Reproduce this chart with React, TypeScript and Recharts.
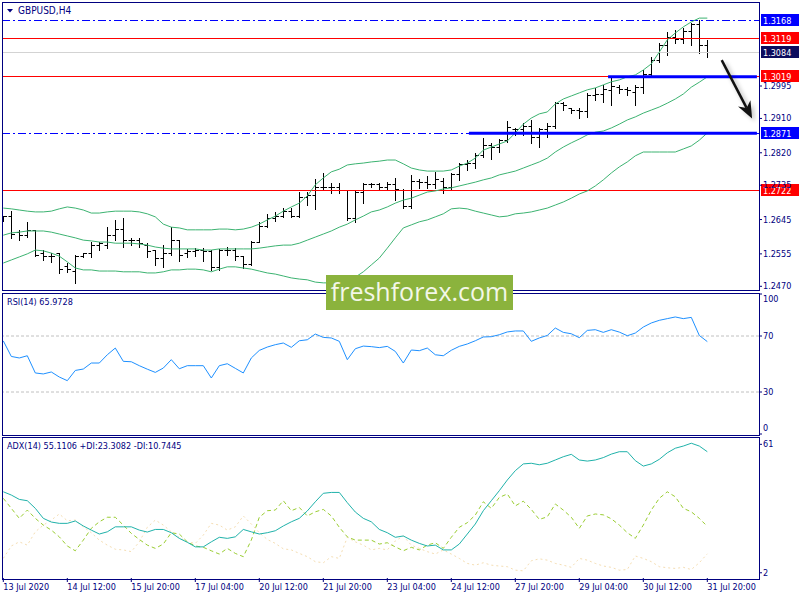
import React from "react";
import { ComposedChart, Bar, Line, XAxis, YAxis, ReferenceLine } from "recharts";

const FONT = "'DejaVu Sans Condensed', 'DejaVu Sans', sans-serif";
const NAVY = "#000080";
const BB = "#3CB371";

// H4 bar times, 13 Jul 04:00 .. 31 Jul 20:00
const days = [
  "13 Jul", "14 Jul", "15 Jul", "16 Jul", "17 Jul",
  "20 Jul", "21 Jul", "22 Jul", "23 Jul", "24 Jul",
  "27 Jul", "28 Jul", "29 Jul", "30 Jul", "31 Jul",
];
const hours = ["00:00", "04:00", "08:00", "12:00", "16:00", "20:00"];
const times = days.flatMap((d) => hours.map((h) => `${d} ${h}`)).slice(1);
const firstLabel = "13 Jul 2020";

const opens = [
  1.2652, 1.2652, 1.2610, 1.2602, 1.2615, 1.2557, 1.2547, 1.2555, 1.2521, 1.2510,
  1.2549, 1.2555, 1.2576, 1.2578, 1.2602, 1.2620, 1.2591, 1.2589, 1.2578, 1.2563,
  1.2544, 1.2557, 1.2591, 1.2555, 1.2560, 1.2565, 1.2560, 1.2518, 1.2563, 1.2565,
  1.2547, 1.2528, 1.2586, 1.2628, 1.2649, 1.2654, 1.2667, 1.2654, 1.2704, 1.2707,
  1.2730, 1.2728, 1.2730, 1.2722, 1.2649, 1.2717, 1.2736, 1.2736, 1.2730, 1.2738,
  1.2722, 1.2678, 1.2746, 1.2743, 1.2738, 1.2746, 1.2728, 1.2762, 1.2788, 1.2793,
  1.2814, 1.2840, 1.2835, 1.2851, 1.2880, 1.2882, 1.2888, 1.2861, 1.2880, 1.2890,
  1.2948, 1.2935, 1.2932, 1.2927, 1.2969, 1.2974, 1.2982, 1.2992, 1.2987, 1.2979,
  1.2990, 1.3024, 1.3063, 1.3100, 1.3121, 1.3116, 1.3137, 1.3155, 1.3102,
];
const highs = [
  1.2654, 1.2667, 1.2618, 1.2639, 1.2618, 1.2565, 1.2557, 1.2557, 1.2531, 1.2552,
  1.2557, 1.2586, 1.2586, 1.2625, 1.2644, 1.2649, 1.2597, 1.2597, 1.2583, 1.2565,
  1.2578, 1.2625, 1.2591, 1.2568, 1.2570, 1.2570, 1.2565, 1.2568, 1.2573, 1.2570,
  1.2549, 1.2589, 1.2639, 1.2660, 1.2665, 1.2675, 1.2675, 1.2717, 1.2717, 1.2751,
  1.2767, 1.2741, 1.2741, 1.2722, 1.2722, 1.2741, 1.2741, 1.2741, 1.2743, 1.2754,
  1.2725, 1.2762, 1.2751, 1.2759, 1.2770, 1.2754, 1.2767, 1.2793, 1.2801, 1.2819,
  1.2859, 1.2846, 1.2856, 1.2903, 1.2885, 1.2898, 1.2906, 1.2885, 1.2898, 1.2953,
  1.2953, 1.2937, 1.2937, 1.2977, 1.2990, 1.2998, 1.3016, 1.2998, 1.2992, 1.2998,
  1.3037, 1.3071, 1.3108, 1.3137, 1.3142, 1.3147, 1.3160, 1.3168, 1.3116,
];
const lows = [
  1.2641, 1.2597, 1.2591, 1.2599, 1.2549, 1.2539, 1.2534, 1.2505, 1.2508, 1.2479,
  1.2547, 1.2547, 1.2565, 1.2570, 1.2591, 1.2573, 1.2578, 1.2573, 1.2547, 1.2526,
  1.2521, 1.2552, 1.2536, 1.2547, 1.2549, 1.2536, 1.2513, 1.2513, 1.2552, 1.2539,
  1.2518, 1.2526, 1.2586, 1.2625, 1.2641, 1.2652, 1.2652, 1.2652, 1.2683, 1.2673,
  1.2722, 1.2715, 1.2715, 1.2644, 1.2639, 1.2688, 1.2730, 1.2722, 1.2722, 1.2696,
  1.2675, 1.2675, 1.2728, 1.2728, 1.2728, 1.2715, 1.2722, 1.2749, 1.2775, 1.2780,
  1.2809, 1.2804, 1.2822, 1.2848, 1.2867, 1.2867, 1.2846, 1.2835, 1.2861, 1.2885,
  1.2932, 1.2924, 1.2911, 1.2914, 1.2958, 1.2953, 1.2945, 1.2977, 1.2971, 1.2945,
  1.2977, 1.3019, 1.3058, 1.3076, 1.3108, 1.3108, 1.3102, 1.3082, 1.3071,
];
const closes = [
  1.2652, 1.2607, 1.2602, 1.2615, 1.2552, 1.2547, 1.2549, 1.2513, 1.2513, 1.2549,
  1.2555, 1.2576, 1.2581, 1.2602, 1.2618, 1.2591, 1.2589, 1.2581, 1.2560, 1.2542,
  1.2557, 1.2591, 1.2552, 1.2560, 1.2565, 1.2560, 1.2518, 1.2563, 1.2565, 1.2547,
  1.2528, 1.2586, 1.2628, 1.2649, 1.2654, 1.2667, 1.2654, 1.2704, 1.2707, 1.2730,
  1.2728, 1.2730, 1.2722, 1.2649, 1.2717, 1.2738, 1.2736, 1.2730, 1.2738, 1.2725,
  1.2678, 1.2746, 1.2743, 1.2736, 1.2749, 1.2728, 1.2762, 1.2788, 1.2793, 1.2814,
  1.2840, 1.2835, 1.2851, 1.2885, 1.2882, 1.2888, 1.2861, 1.2880, 1.2890, 1.2948,
  1.2943, 1.2932, 1.2927, 1.2969, 1.2974, 1.2985, 1.2995, 1.2987, 1.2982, 1.2990,
  1.3024, 1.3063, 1.3100, 1.3121, 1.3116, 1.3137, 1.3155, 1.3102, 1.3084,
];

// Bollinger Bands (20, 2)
const bbUpper = [
  1.2675, 1.2673, 1.2670, 1.2667, 1.2665, 1.2665, 1.2667, 1.2673, 1.2678, 1.2675,
  1.2670, 1.2662, 1.2662, 1.2665, 1.2667, 1.2667, 1.2667, 1.2665, 1.2660, 1.2652,
  1.2633, 1.2625, 1.2623, 1.2618, 1.2618, 1.2618, 1.2618, 1.2620, 1.2620, 1.2618,
  1.2620, 1.2625, 1.2633, 1.2644, 1.2654, 1.2667, 1.2678, 1.2688, 1.2707, 1.2736,
  1.2754, 1.2770, 1.2777, 1.2788, 1.2791, 1.2793, 1.2796, 1.2798, 1.2801, 1.2801,
  1.2791, 1.2780, 1.2775, 1.2772, 1.2772, 1.2772, 1.2775, 1.2785, 1.2793, 1.2806,
  1.2827, 1.2835, 1.2843, 1.2851, 1.2872, 1.2895, 1.2911, 1.2922, 1.2927, 1.2948,
  1.2961, 1.2969, 1.2977, 1.2985, 1.2990, 1.2998, 1.3006, 1.3011, 1.3019, 1.3024,
  1.3037, 1.3053, 1.3084, 1.3116, 1.3134, 1.3150, 1.3163, 1.3173, 1.3173,
];
const bbMiddle = [
  1.2604, 1.2610, 1.2612, 1.2615, 1.2615, 1.2615, 1.2612, 1.2607, 1.2602, 1.2597,
  1.2591, 1.2589, 1.2586, 1.2586, 1.2583, 1.2583, 1.2583, 1.2581, 1.2578, 1.2573,
  1.2570, 1.2568, 1.2568, 1.2568, 1.2568, 1.2565, 1.2565, 1.2568, 1.2568, 1.2568,
  1.2568, 1.2568, 1.2570, 1.2573, 1.2576, 1.2578, 1.2578, 1.2583, 1.2591, 1.2599,
  1.2607, 1.2615, 1.2625, 1.2633, 1.2644, 1.2654, 1.2665, 1.2670, 1.2678, 1.2688,
  1.2696, 1.2701, 1.2709, 1.2717, 1.2720, 1.2725, 1.2728, 1.2733, 1.2738, 1.2743,
  1.2749, 1.2754, 1.2762, 1.2767, 1.2772, 1.2780, 1.2788, 1.2796, 1.2806, 1.2822,
  1.2835, 1.2846, 1.2856, 1.2867, 1.2874, 1.2877, 1.2885, 1.2895, 1.2906, 1.2914,
  1.2924, 1.2932, 1.2940, 1.2950, 1.2961, 1.2974, 1.2992, 1.3005, 1.3019,
];
const bbLower = [
  1.2531, 1.2539, 1.2547, 1.2555, 1.2565, 1.2563, 1.2557, 1.2549, 1.2534, 1.2518,
  1.2513, 1.2513, 1.2510, 1.2510, 1.2510, 1.2508, 1.2508, 1.2508, 1.2505, 1.2505,
  1.2508, 1.2513, 1.2513, 1.2515, 1.2515, 1.2513, 1.2508, 1.2515, 1.2521, 1.2521,
  1.2518, 1.2515, 1.2510, 1.2505, 1.2502, 1.2497, 1.2492, 1.2489, 1.2487, 1.2481,
  1.2479, 1.2479, 1.2481, 1.2487, 1.2494, 1.2508, 1.2526, 1.2544, 1.2570, 1.2597,
  1.2623, 1.2631, 1.2639, 1.2644, 1.2652, 1.2660, 1.2673, 1.2675, 1.2673, 1.2667,
  1.2662, 1.2657, 1.2652, 1.2654, 1.2660, 1.2662, 1.2665, 1.2670, 1.2675, 1.2683,
  1.2691, 1.2701, 1.2712, 1.2720, 1.2733, 1.2749, 1.2767, 1.2783, 1.2796, 1.2812,
  1.2822, 1.2822, 1.2822, 1.2822, 1.2822, 1.2830, 1.2838, 1.2853, 1.2872,
];

const rsi = [
  66.5, 55.4, 54.3, 55.9, 43.6, 42.9, 44.3, 40.7, 38.1, 45.4,
  46.4, 50.7, 50.7, 56.6, 61.4, 51.9, 51.6, 48.8, 46.3, 44.0,
  47.1, 53.1, 46.6, 48.8, 48.8, 48.8, 40.0, 48.8, 50.2, 46.9,
  43.6, 54.3, 59.7, 62.1, 63.8, 65.0, 61.9, 66.6, 67.3, 71.4,
  69.0, 68.6, 66.2, 53.1, 60.9, 62.8, 62.4, 61.7, 62.6, 59.0,
  50.7, 60.0, 59.5, 61.4, 56.6, 55.9, 59.8, 62.6, 64.3, 66.6,
  69.3, 69.5, 70.9, 72.9, 73.6, 73.6, 66.2, 68.6, 70.4, 75.7,
  72.6, 71.6, 68.8, 74.0, 74.5, 72.6, 74.5, 72.8, 70.2, 72.1,
  76.4, 79.3, 81.2, 82.4, 83.6, 82.4, 83.3, 70.4, 66.0,
];

const adx = [
  39.2, 37.7, 35.7, 35.1, 31.6, 27.0, 25.3, 24.7, 24.7, 25.8,
  23.5, 21.6, 19.8, 20.8, 23.1, 23.1, 23.1, 21.6, 20.7, 21.9,
  21.9, 20.4, 17.8, 16.0, 13.9, 13.9, 16.2, 18.3, 17.8, 18.5,
  21.9, 20.8, 19.8, 20.4, 21.3, 23.5, 25.4, 27.0, 30.4, 34.6,
  38.5, 38.9, 38.9, 34.2, 29.9, 27.0, 25.4, 21.9, 20.4, 18.3,
  18.9, 17.0, 15.5, 14.3, 14.7, 12.5, 12.5, 15.2, 19.8, 24.4,
  30.5, 35.1, 39.7, 44.6, 48.9, 52.0, 52.3, 51.6, 52.3, 53.8,
  55.3, 56.4, 53.8, 53.3, 53.8, 54.9, 56.5, 57.6, 57.6, 53.5,
  51.0, 52.0, 54.1, 57.1, 59.2, 60.2, 61.5, 60.2, 57.6,
];
const plusDi = [
  36.2, 31.6, 27.0, 30.8, 27.0, 23.9, 21.6, 18.5, 14.3, 12.1,
  17.0, 22.4, 25.4, 27.5, 27.5, 23.9, 20.1, 17.3, 14.7, 13.2,
  15.2, 20.4, 19.8, 16.2, 14.3, 13.7, 12.1, 10.6, 13.2, 10.9,
  9.4, 17.0, 27.5, 30.5, 30.8, 35.1, 30.5, 32.0, 28.1, 30.0,
  31.1, 28.1, 22.9, 18.5, 17.0, 17.0, 17.0, 15.2, 15.8, 13.9,
  12.1, 13.7, 12.5, 14.7, 15.8, 13.2, 18.3, 22.9, 25.0, 28.5,
  34.6, 31.6, 36.6, 38.2, 32.7, 34.9, 31.1, 26.5, 27.7, 33.6,
  30.8, 27.5, 22.4, 28.1, 29.0, 28.6, 26.8, 23.9, 20.4, 17.8,
  23.9, 30.8, 36.2, 39.2, 36.9, 31.6, 30.0, 27.0, 23.3,
];
const minusDi = [
  8.6, 14.3, 16.2, 14.7, 20.8, 23.9, 26.2, 29.0, 25.9, 26.2,
  23.1, 20.4, 17.0, 14.7, 12.8, 12.5, 11.7, 16.2, 22.9, 26.2,
  23.9, 20.8, 18.2, 16.2, 15.5, 19.3, 24.7, 23.9, 21.6, 23.1,
  28.1, 24.4, 20.4, 17.3, 15.5, 13.0, 12.5, 10.9, 9.4, 7.1,
  6.6, 9.4, 8.6, 18.3, 16.2, 14.7, 12.5, 13.2, 12.5, 16.6,
  18.9, 14.7, 13.2, 11.7, 10.6, 12.5, 10.6, 8.6, 6.3, 5.5,
  6.6, 5.5, 5.1, 4.8, 3.2, 2.9, 7.5, 8.4, 7.8, 6.3,
  5.5, 4.5, 8.6, 7.8, 6.3, 5.1, 4.5, 3.2, 3.5, 9.7,
  8.6, 7.1, 4.8, 4.3, 4.0, 4.5, 3.5, 6.6, 10.7,
];

// axis ticks and drawn objects
const priceTicks = [1.2470, 1.2555, 1.2645, 1.2735, 1.2820, 1.2910, 1.2995];
const rsiTicks = [0, 30, 70, 100];
const rsiLevels = [70, 30];
const adxTicks = [2, 61];
const levels = [
  { price: 1.3168, color: "#0000FF", dash: "8 3 2 3", tag: "#0000FF" },
  { price: 1.3119, color: "#FF0000", dash: undefined, tag: "#FF0000" },
  { price: 1.3084, color: "#D3D3D3", dash: undefined, tag: "#0C0C5E" },
  { price: 1.3019, color: "#FF0000", dash: undefined, tag: "#FF0000" },
  { price: 1.2871, color: "#0000FF", dash: "8 3 2 3", tag: "#0000FF" },
  { price: 1.2722, color: "#FF0000", dash: undefined, tag: "#FF0000" },
];
const supportLines = [
  { from: 75.6, to: 94.2, price: 1.3019 },
  { from: 58.2, to: 94.2, price: 1.2871 },
];
const arrow = { from: { x: 89.8, y: 1.3063 }, to: { x: 93.6, y: 1.2910 } };

const X_DOMAIN = [-0.1625, 94.4625];
const labelIdx = times.map((_, i) => i).filter((i) => i % 8 === 0);

const rows = times.map((t, i) => ({
  idx: i,
  time: t,
  open: opens[i],
  high: highs[i],
  low: lows[i],
  close: closes[i],
  range: [lows[i], highs[i]],
  bbUp: bbUpper[i],
  bbMid: bbMiddle[i],
  bbLow: bbLower[i],
  rsi: rsi[i],
  adx: adx[i],
  pdi: plusDi[i],
  mdi: minusDi[i],
}));

const crisp = (v: number) => Math.round(v - 0.5) + 0.5;

const OhlcShape = (p: any) => {
  const { x, y, width, height, payload } = p;
  if (!payload) return null;
  const top = Math.min(y, y + height);
  const h = Math.abs(height);
  const cx = Math.round(x + width / 2) + 0.5;
  const span = payload.high - payload.low || 1;
  const py = (v: number) => crisp(top + ((payload.high - v) / span) * h);
  return (
    <g stroke="#000" strokeWidth={1}>
      <line x1={cx} x2={cx} y1={Math.round(top)} y2={Math.round(top + h) + 1} />
      <line x1={cx - 3} x2={cx} y1={py(payload.open)} y2={py(payload.open)} />
      <line x1={cx} x2={cx + 3.5} y1={py(payload.close)} y2={py(payload.close)} />
    </g>
  );
};

const levelShape = (lv: (typeof levels)[number]) => (p: any) => {
  const y = crisp(p.y1);
  const left = Math.min(p.x1, p.x2);
  const right = Math.max(p.x1, p.x2);
  return (
    <g>
      <line x1={left} x2={right} y1={y} y2={y} stroke={lv.color} strokeWidth={1} strokeDasharray={lv.dash} />
      <rect x={right + 2} y={y - 6.5} width={38} height={12} fill={lv.tag} />
      <text x={right + 4} y={y + 3.5} fill="#fff" fontSize={9} fontFamily={FONT}>
        {lv.price.toFixed(4)}
      </text>
    </g>
  );
};

const supportShape = (p: any) => (
  <g>
    <line x1={p.x1} x2={p.x2} y1={p.y1 + 4} y2={p.y2 + 4} stroke="#000" strokeOpacity={0.18} strokeWidth={6} filter="url(#soft)" />
    <line x1={p.x1} x2={p.x2} y1={p.y1} y2={p.y2} stroke="#0000FF" strokeWidth={3} />
  </g>
);

const arrowShape = (p: any) => {
  const dx = p.x2 - p.x1;
  const dy = p.y2 - p.y1;
  const len = Math.hypot(dx, dy);
  const ux = dx / len;
  const uy = dy / len;
  const head = 17;
  const half = 7;
  const bx = p.x2 - ux * head;
  const by = p.y2 - uy * head;
  const nx = p.x2 - ux * head * 0.7;
  const ny = p.y2 - uy * head * 0.7;
  const pts = (o: number) =>
    `${p.x2 + o},${p.y2 + o} ${bx - uy * half + o},${by + ux * half + o} ${nx + o},${ny + o} ${bx + uy * half + o},${by - ux * half + o}`;
  return (
    <g>
      <defs>
        <filter id="soft" x="-10%" y="-200%" width="120%" height="500%">
          <feGaussianBlur stdDeviation="2" />
        </filter>
      </defs>
      <g opacity={0.2} filter="url(#soft)">
        <line x1={p.x1 + 3} y1={p.y1 + 3} x2={nx + 3} y2={ny + 3} stroke="#000" strokeWidth={4} />
        <polygon points={pts(3)} fill="#000" />
      </g>
      <line x1={p.x1} y1={p.y1} x2={nx} y2={ny} stroke="#111" strokeWidth={2.5} />
      <polygon points={pts(0)} fill="#111" />
    </g>
  );
};

const PriceTick = ({ x, y, payload }: any) => (
  <text x={x} y={y + 3} fill={NAVY} fontSize={9} fontFamily={FONT}>
    {Number(payload.value).toFixed(4)}
  </text>
);

const RsiTick = ({ x, y, payload }: any) => {
  const v = payload.value;
  const dy = v === 100 ? 8 : v === 0 ? -3 : 3;
  return (
    <text x={x} y={y + dy} fill={NAVY} fontSize={9} fontFamily={FONT}>
      {v}
    </text>
  );
};

const AdxTick = ({ x, y, payload }: any) => (
  <text x={x} y={y + 3} fill={NAVY} fontSize={9} fontFamily={FONT}>
    {payload.value}
  </text>
);

const TimeTick = ({ x, y, payload }: any) => (
  <text x={x} y={y + 6} fill={NAVY} fontSize={9} fontFamily={FONT}>
    {payload.value === 0 ? firstLabel : times[payload.value]}
  </text>
);

const frame = (top: number, height: number): React.CSSProperties => ({
  position: "absolute",
  left: 2,
  top,
  width: 758,
  height,
  boxSizing: "border-box",
  border: `1px solid ${NAVY}`,
  pointerEvents: "none",
});

export default function App() {
  return (
    <div style={{ position: "relative", width: 800, height: 600, background: "#fff", overflow: "hidden" }}>
      <style>{`body{margin:0}`}</style>

      {/* price window */}
      <div style={{ position: "absolute", left: 0, top: 0 }}>
        <ComposedChart width={800} height={300} data={rows} margin={{ top: 3, right: 0, bottom: 10, left: 2 }}>
          <XAxis type="number" dataKey="idx" domain={X_DOMAIN} allowDataOverflow hide />
          <YAxis
            orientation="right"
            width={41}
            type="number"
            domain={[1.24603, 1.32126]}
            allowDataOverflow
            ticks={priceTicks}
            interval={0}
            axisLine={false}
            tickLine={{ stroke: NAVY }}
            tickSize={3}
            tickMargin={1}
            tick={<PriceTick />}
          />
          {levels.map((lv) => (
            <ReferenceLine key={lv.price} y={lv.price} stroke={lv.color} shape={levelShape(lv)} />
          ))}
          <Line dataKey="bbUp" stroke={BB} strokeWidth={1} dot={false} isAnimationActive={false} />
          <Line dataKey="bbMid" stroke={BB} strokeWidth={1} dot={false} isAnimationActive={false} />
          <Line dataKey="bbLow" stroke={BB} strokeWidth={1} dot={false} isAnimationActive={false} />
          <Bar dataKey="range" barSize={7} shape={OhlcShape} isAnimationActive={false} />
          {supportLines.map((s) => (
            <ReferenceLine
              key={s.price}
              segment={[{ x: s.from, y: s.price }, { x: s.to, y: s.price }]}
              stroke="#0000FF"
              shape={supportShape}
            />
          ))}
          <ReferenceLine segment={[arrow.from, arrow.to]} stroke="#111" shape={arrowShape} />
        </ComposedChart>
      </div>

      {/* RSI window */}
      <div style={{ position: "absolute", left: 0, top: 293 }}>
        <ComposedChart width={800} height={142} data={rows} margin={{ top: 1, right: 0, bottom: 1, left: 2 }}>
          <XAxis type="number" dataKey="idx" domain={X_DOMAIN} allowDataOverflow hide />
          <YAxis
            orientation="right"
            width={41}
            type="number"
            domain={[0, 100]}
            ticks={rsiTicks}
            interval={0}
            axisLine={false}
            tickLine={{ stroke: NAVY }}
            tickSize={3}
            tickMargin={1}
            tick={<RsiTick />}
          />
          {rsiLevels.map((v) => (
            <ReferenceLine key={v} y={v} stroke="#C0C0C0" strokeDasharray="3 2" />
          ))}
          <Line dataKey="rsi" stroke="#1E90FF" strokeWidth={1} dot={false} isAnimationActive={false} />
        </ComposedChart>
      </div>

      {/* ADX window */}
      <div style={{ position: "absolute", left: 0, top: 437 }}>
        <ComposedChart width={800} height={163} data={rows} margin={{ top: 1, right: 0, bottom: 0, left: 2 }}>
          <XAxis
            type="number"
            dataKey="idx"
            domain={X_DOMAIN}
            allowDataOverflow
            ticks={labelIdx}
            interval={0}
            axisLine={false}
            tickLine={{ stroke: NAVY }}
            tickSize={4}
            tickMargin={2}
            height={22}
            tick={<TimeTick />}
          />
          <YAxis
            orientation="right"
            width={41}
            type="number"
            domain={[-0.4, 63.9]}
            allowDataOverflow
            ticks={adxTicks}
            interval={0}
            axisLine={false}
            tickLine={{ stroke: NAVY }}
            tickSize={3}
            tickMargin={1}
            tick={<AdxTick />}
          />
          <Line dataKey="mdi" stroke="#F5DEB3" strokeWidth={1} strokeDasharray="2 3" dot={false} isAnimationActive={false} />
          <Line dataKey="pdi" stroke="#9ACD32" strokeWidth={1} strokeDasharray="4 3" dot={false} isAnimationActive={false} />
          <Line dataKey="adx" stroke="#20B2AA" strokeWidth={1} dot={false} isAnimationActive={false} />
        </ComposedChart>
      </div>

      <div style={frame(2, 289)} />
      <div style={frame(293, 143)} />
      <div style={frame(437, 143)} />

      {/* window captions */}
      <svg width={800} height={600} style={{ position: "absolute", left: 0, top: 0, pointerEvents: "none" }}>
        <polygon points="7,9 13,9 10,12.5" fill={NAVY} />
        <text x={18} y={14} fill={NAVY} fontSize={10} fontFamily={FONT}>GBPUSD,H4</text>
        <text x={7} y={305} fill={NAVY} fontSize={9} fontFamily={FONT}>RSI(14) 65.9728</text>
        <text x={7} y={449} fill={NAVY} fontSize={9} fontFamily={FONT}>ADX(14) 55.1106 +DI:23.3082 -DI:10.7445</text>
      </svg>

      {/* watermark */}
      <div
        style={{
          position: "absolute",
          left: 326,
          top: 275,
          width: 187,
          height: 35,
          background: "#8BB33D",
          color: "#F3F7E8",
          fontFamily: "'Open Sans', sans-serif",
          fontSize: 25,
          lineHeight: "33px",
          textAlign: "center",
        }}
      >
        freshforex.com
      </div>
    </div>
  );
}
